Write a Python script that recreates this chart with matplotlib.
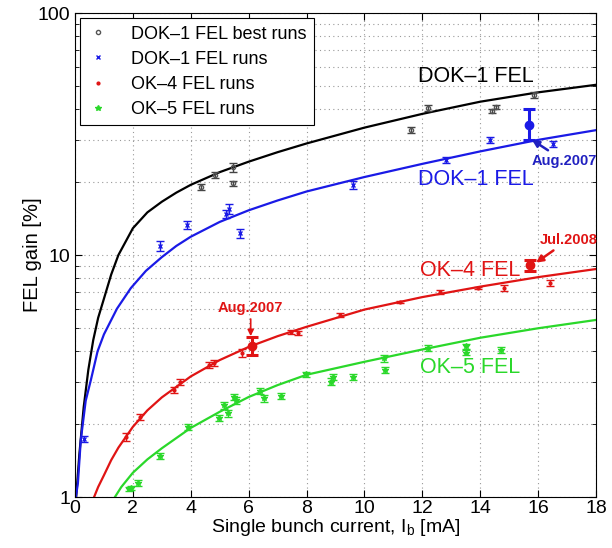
"""FEL gain vs single bunch current: DOK-1 / OK-4 / OK-5 runs with fit curves."""

import matplotlib

matplotlib.use("Agg")
import matplotlib.pyplot as plt
from matplotlib.ticker import FixedLocator, LogLocator, NullFormatter

plt.rcParams["font.family"] = ["Liberation Sans", "DejaVu Sans"]

# fit curves (current mA, gain %)
dok1_best_fit_x = [0.04, 0.15, 0.3, 0.46, 0.63, 0.8, 1.0, 1.25, 1.5, 2, 2.5, 3, 3.5, 4,
                   5, 6, 7, 8, 10, 12, 14, 16, 18]
dok1_best_fit_y = [1.0, 1.5, 2.35, 3.35, 4.45, 5.5, 6.6, 8.3, 10.0, 12.9, 15.0, 16.6,
                   18.1, 19.5, 22.0, 24.3, 26.6, 28.9, 33.6, 38.3, 43.0, 47.0, 50.5]
dok1_fit_x = [0.03, 0.1, 0.2, 0.37, 0.55, 0.78, 1.0, 1.45, 1.93, 2.45, 3, 3.5, 4, 5, 6,
              7, 8, 10, 12, 14, 16, 18]
dok1_fit_y = [1.0, 1.14, 1.72, 2.5, 3.05, 4.0, 4.7, 6.0, 7.3, 8.6, 9.8, 10.9, 11.9,
              13.7, 15.3, 16.8, 18.3, 21.0, 23.8, 26.8, 29.9, 32.8]
ok4_fit_x = [0.66, 0.8, 1.0, 1.25, 1.5, 2, 2.5, 3, 4, 5, 6, 7, 8, 10, 12, 14, 16, 18]
ok4_fit_y = [1.0, 1.1, 1.23, 1.42, 1.6, 1.95, 2.28, 2.58, 3.15, 3.68, 4.17, 4.62, 5.05,
             5.95, 6.7, 7.4, 8.1, 8.75]
ok5_fit_x = [1.38, 1.6, 2, 2.5, 3, 4, 5, 6, 7, 8, 10, 12, 14, 16, 18]
ok5_fit_y = [1.0, 1.1, 1.26, 1.43, 1.59, 1.93, 2.25, 2.59, 2.9, 3.2, 3.62, 4.07, 4.55,
             4.98, 5.39]

# measured runs
dok1_best_x = [4.34, 4.83, 5.45, 5.45, 11.6, 12.2, 14.4, 14.55, 15.86]
dok1_best_y = [19.1, 21.4, 23.1, 19.8, 32.9, 40.5, 39.5, 41.0, 45.8]
dok1_best_err = [0.6, 0.6, 1.0, 0.5, 0.9, 1.3, 0.8, 0.8, 1.2]

dok1_x = [0.31, 2.93, 3.86, 5.2, 5.31, 5.69, 9.62, 12.83, 14.34, 16.5]
dok1_y = [1.74, 10.9, 13.3, 14.8, 15.5, 12.3, 19.5, 24.7, 29.9, 28.8]
dok1_err = [0.05, 0.5, 0.5, 0.6, 0.7, 0.5, 0.7, 0.7, 0.9, 0.9]

ok4_x = [1.76, 2.24, 3.41, 3.62, 4.62, 4.79, 5.76, 7.45, 7.72, 9.14, 11.24, 12.62,
         13.93, 14.83, 16.4]
ok4_y = [1.77, 2.14, 2.77, 2.99, 3.51, 3.58, 3.94, 4.81, 4.76, 5.65, 6.4, 7.03,
         7.3, 7.3, 7.66]
ok4_err = [0.07, 0.06, 0.08, 0.08, 0.1, 0.1, 0.15, 0.1, 0.1, 0.1, 0.05, 0.15,
           0.05, 0.2, 0.2]

ok5_x = [1.86, 1.95, 2.17, 2.93, 3.9, 4.97, 5.14, 5.28, 5.48, 5.55, 6.38, 6.52,
         7.1, 7.97, 8.86, 8.93, 9.59, 10.66, 10.72, 12.2, 13.52, 13.52, 14.72]
ok5_y = [1.08, 1.09, 1.14, 1.48, 1.95, 2.12, 2.4, 2.22, 2.59, 2.51, 2.74, 2.56,
         2.61, 3.22, 2.99, 3.13, 3.13, 3.75, 3.35, 4.13, 4.2, 3.95, 4.05]
ok5_err = [0.02, 0.02, 0.03, 0.04, 0.05, 0.06, 0.08, 0.07, 0.08, 0.08, 0.08, 0.08,
           0.08, 0.08, 0.1, 0.1, 0.1, 0.12, 0.1, 0.12, 0.1, 0.1, 0.12]

# highlighted runs (Aug.2007 DOK-1 and OK-4, Jul.2008 OK-4)
dok1_aug07 = (15.7, 34.5, 5.6, 4.6)   # x, y, +err, -err
ok4_aug07 = (6.1, 4.21, 0.37, 0.35)
ok4_jul08 = (15.72, 9.1, 0.4, 0.55)

BLACK = "black"
BLUE = "#1a1ae6"
RED = "#e01414"
GREEN = "#2ad82a"

fig = plt.figure(figsize=(6.12, 5.48), dpi=100)
ax = fig.add_axes([75 / 612, 51 / 548, 521 / 612, 484 / 548])

ax.plot(dok1_best_fit_x, dok1_best_fit_y, color=BLACK, lw=1.6)
ax.plot(dok1_fit_x, dok1_fit_y, color=BLUE, lw=1.6)
ax.plot(ok4_fit_x, ok4_fit_y, color=RED, lw=1.6)
ax.plot(ok5_fit_x, ok5_fit_y, color=GREEN, lw=1.6)

ax.errorbar(dok1_best_x, dok1_best_y, yerr=dok1_best_err, fmt="o", ms=3, mfc="none",
            mec="#555555", ecolor="#444444", elinewidth=1, capsize=3)
ax.errorbar(dok1_x, dok1_y, yerr=dok1_err, fmt="x", ms=3.5, color=BLUE, mew=1,
            elinewidth=1, capsize=3)
ax.errorbar(ok4_x, ok4_y, yerr=ok4_err, fmt=".", ms=4, color=RED, elinewidth=1,
            capsize=3)
ax.errorbar(ok5_x, ok5_y, yerr=ok5_err, fmt="*", ms=4, color=GREEN, elinewidth=1,
            capsize=3)

for (px, py, up, dn), col in [(dok1_aug07, BLUE), (ok4_aug07, RED), (ok4_jul08, RED)]:
    ax.errorbar([px], [py], yerr=[[dn], [up]], fmt="o", ms=6, color=col,
                elinewidth=2.2, capsize=4, capthick=2.2)

# legend proxies: markers only, as in the original
ax.plot([], [], "o", ms=3, mfc="none", mec="#555555", label="DOK\u20131 FEL best runs")
ax.plot([], [], "x", ms=3.5, color=BLUE, mew=1, label="DOK\u20131 FEL runs")
ax.plot([], [], ".", ms=4, color=RED, label="OK\u20134 FEL runs")
ax.plot([], [], "*", ms=4, color=GREEN, label="OK\u20135 FEL runs")

ax.text(13.86, 54.4, "DOK\u20131 FEL", color=BLACK, fontsize=15.5, ha="center", va="center")
ax.text(13.86, 20.6, "DOK\u20131 FEL", color=BLUE, fontsize=15.5, ha="center", va="center")
ax.text(13.66, 8.59, "OK\u20134 FEL", color=RED, fontsize=15.5, ha="center", va="center")
ax.text(13.66, 3.44, "OK\u20135 FEL", color=GREEN, fontsize=15.5, ha="center", va="center")

ax.annotate("Aug.2007", xy=(15.79, 29.9), xytext=(16.9, 24.5), color="#2020c0",
            fontsize=10.5, fontweight="bold", ha="center", va="center",
            arrowprops=dict(arrowstyle="-|>", color="#2020c0", lw=1.8,
                            mutation_scale=10, shrinkA=1, shrinkB=0))
ax.annotate("Aug.2007", xy=(6.07, 4.62), xytext=(6.07, 6.05), color=RED,
            fontsize=10.5, fontweight="bold", ha="center", va="center",
            arrowprops=dict(arrowstyle="-|>", color=RED, lw=1.2,
                            mutation_scale=9, shrinkA=1, shrinkB=0))
ax.annotate("Jul.2008", xy=(15.93, 9.3), xytext=(17.05, 11.55), color=RED,
            fontsize=10.5, fontweight="bold", ha="center", va="center",
            arrowprops=dict(arrowstyle="-|>", color=RED, lw=1.8,
                            mutation_scale=10, shrinkA=1, shrinkB=0))

ax.set_yscale("log")
ax.set_xlim(0, 18)
ax.set_ylim(1, 100)
ax.xaxis.set_major_locator(FixedLocator(range(0, 19, 2)))
ax.yaxis.set_major_locator(FixedLocator([1, 10, 100]))
ax.set_yticklabels(["1", "10", "100"])
ax.yaxis.set_minor_locator(LogLocator(base=10, subs=range(2, 10)))
ax.yaxis.set_minor_formatter(NullFormatter())
ax.tick_params(which="both", direction="in", top=True, right=True, labelsize=14)
ax.tick_params(axis="x", which="major", pad=2)
ax.tick_params(which="major", length=5, width=0.8)
ax.tick_params(which="minor", length=3, width=0.6)
ax.grid(True, which="major", axis="x", ls=(0, (1, 3)), color="#999999", lw=0.8)
ax.grid(True, which="both", axis="y", ls=(0, (1, 3)), color="#999999", lw=0.8)
ax.set_axisbelow(True)

ax.set_xlabel("Single bunch current, I$_\\mathregular{b}$ [mA]", fontsize=14, labelpad=0.5)
ax.set_ylabel("FEL gain [%]", fontsize=14.5, labelpad=-3)

leg = ax.legend(loc="upper left", fontsize=13, handlelength=1.2, handletextpad=1.2,
                borderpad=0.4, labelspacing=0.45, fancybox=False, framealpha=1,
                edgecolor="black", borderaxespad=0.3)
leg.get_frame().set_linewidth(0.8)

fig.savefig("out.png", dpi=100)
